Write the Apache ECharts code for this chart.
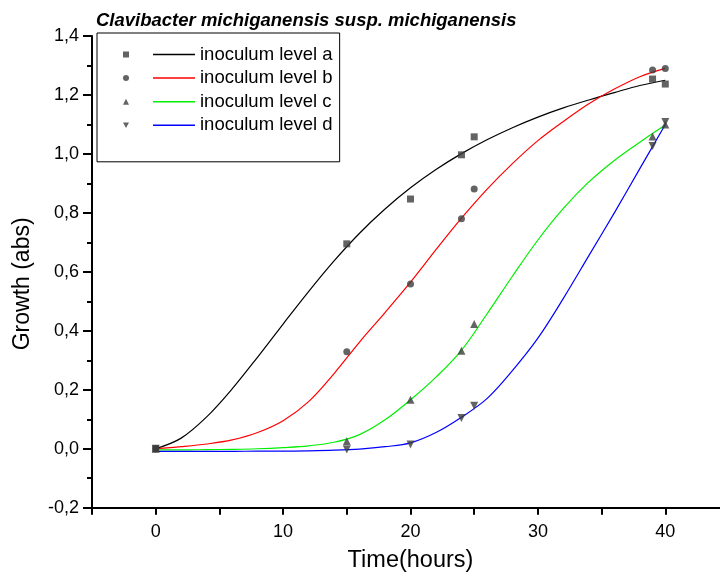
<!DOCTYPE html>
<html>
<head>
<meta charset="utf-8">
<script src="https://cdn.jsdelivr.net/npm/echarts@6/dist/echarts.min.js"></script>
<style>
  html, body { margin: 0; padding: 0; background: #fff; }
  #chart { width: 720px; height: 579px; }
</style>
</head>
<body>
<div id="chart"></div>
<script>
// Measured growth (absorbance) at each sampling time, per inoculum level
const sampleHours = [0, 15, 20, 24, 25, 39, 40];
const measuredA = [0.0, 0.695, 0.847, 0.997, 1.058, 1.254, 1.237];
const measuredB = [0.0, 0.329, 0.559, 0.780, 0.881, 1.285, 1.290];
const measuredC = [0.0, 0.025, 0.166, 0.332, 0.423, 1.059, 1.100];
const measuredD = [0.0, -0.003, 0.014, 0.104, 0.146, 1.027, 1.108];

// Fitted growth curves, sampled every 2 hours
const fitHours = [0, 2, 4, 6, 8, 10, 12, 14, 16, 18, 20, 22, 24, 26, 28, 30, 32, 34, 36, 38, 40];
const fitA = [0.0, 0.036, 0.108, 0.203, 0.311, 0.423, 0.533, 0.637, 0.731, 0.813, 0.885, 0.947, 1.001, 1.048, 1.089, 1.125, 1.156, 1.183, 1.208, 1.232, 1.25];
const fitB = [0.0, 0.007, 0.016, 0.03, 0.055, 0.095, 0.16, 0.255, 0.362, 0.462, 0.565, 0.675, 0.782, 0.88, 0.967, 1.045, 1.11, 1.17, 1.22, 1.262, 1.29];
const fitC = [-0.004, -0.004, -0.003, -0.002, 0.0, 0.004, 0.01, 0.022, 0.048, 0.098, 0.166, 0.243, 0.334, 0.457, 0.585, 0.708, 0.815, 0.905, 0.978, 1.04, 1.098];
const fitD = [-0.009, -0.009, -0.009, -0.009, -0.008, -0.008, -0.007, -0.005, -0.001, 0.007, 0.02, 0.055, 0.107, 0.17, 0.265, 0.375, 0.51, 0.655, 0.8, 0.95, 1.1];

const levelNames = ['inoculum level a', 'inoculum level b', 'inoculum level c', 'inoculum level d'];
const pointNames = ['level a measured', 'level b measured', 'level c measured', 'level d measured'];
const curveColors = ['#000000', '#ff0000', '#00ee00', '#0000ff'];

const xLabelValues = [0, 10, 20, 30, 40];

const titleText = 'Clavibacter michiganensis susp. michiganensis';
const xName = 'Time(hours)';
const yName = 'Growth (abs)';

const FONT = '"Liberation Sans", Arial, sans-serif';
const pointColor = '#3c3c3c';
const downTriangle = 'path://M0,0 L10,0 L5,9 Z';

function pairs(xs, ys) { return xs.map((x, i) => [x, ys[i]]); }

const fits = [fitA, fitB, fitC, fitD];
const measured = [measuredA, measuredB, measuredC, measuredD];
const markers = [
  { symbol: 'rect', size: 7 },
  { symbol: 'circle', size: 7 },
  { symbol: 'triangle', size: 8 },
  { symbol: downTriangle, size: 8 }
];

const series = [];
fits.forEach((f, i) => {
  series.push({
    name: levelNames[i],
    type: 'line',
    data: pairs(fitHours, f),
    smooth: 0.35,
    symbol: 'none',
    color: curveColors[i],
    lineStyle: { color: curveColors[i], width: 1.2 },
    z: 2,
    silent: true
  });
});
measured.forEach((m, i) => {
  series.push({
    name: pointNames[i],
    type: 'scatter',
    data: pairs(sampleHours, m),
    symbol: markers[i].symbol,
    symbolSize: markers[i].size,
    itemStyle: { color: pointColor },
    z: 5,
    silent: true
  });
});

const chart = echarts.init(document.getElementById('chart'), null, { renderer: 'canvas' });
chart.setOption({
  animation: false,
  backgroundColor: '#ffffff',
  textStyle: { fontFamily: FONT },
  title: {
    text: titleText,
    left: 96,
    top: 11,
    padding: 0,
    textStyle: { fontFamily: FONT, fontSize: 18.5, fontWeight: 'bold', fontStyle: 'italic', color: '#000' }
  },
  legend: [
    {
      data: levelNames,
      orient: 'vertical',
      left: 97,
      top: 33,
      padding: [12, 7, 27, 56],
      borderColor: '#000',
      borderWidth: 1,
      icon: 'rect',
      itemWidth: 42,
      itemHeight: 1.5,
      itemGap: 4.6,
      selectedMode: false,
      textStyle: { fontFamily: FONT, fontSize: 18.5, color: '#000', lineHeight: 18 }
    },
    {
      data: pointNames,
      orient: 'vertical',
      left: 123,
      top: 45,
      padding: 0,
      itemWidth: 6,
      itemHeight: 6,
      itemGap: 4.6,
      selectedMode: false,
      formatter: () => ' ',
      itemStyle: { color: pointColor },
      textStyle: { fontFamily: FONT, fontSize: 18.5, color: '#000', lineHeight: 18 }
    }
  ],
  grid: {
    left: 92,
    top: 36,
    right: -9,
    bottom: 71.3,
    containLabel: false,
    outerBoundsMode: 'none'
  },
  xAxis: {
    // ticks every 5 hours, labels every 10
    type: 'value',
    position: 'bottom',
    min: -5,
    max: 45,
    interval: 5,
    name: xName,
    nameLocation: 'middle',
    nameGap: 41,
    nameMoveOverlap: false,
    nameTextStyle: { fontFamily: FONT, fontSize: 23.5, color: '#000' },
    axisLine: { show: true, onZero: false, lineStyle: { color: '#000', width: 2 } },
    axisTick: { show: true, inside: false, length: 7, lineStyle: { color: '#000', width: 2 } },
    axisLabel: { show: true, margin: 15, customValues: xLabelValues, fontFamily: FONT, fontSize: 18, color: '#000' },
    splitLine: { show: false }
  },
  yAxis: {
    type: 'value',
    min: -0.2,
    max: 1.4,
    interval: 0.2,
    name: yName,
    nameLocation: 'middle',
    nameGap: 58,
    nameMoveOverlap: false,
    nameTextStyle: { fontFamily: FONT, fontSize: 23, color: '#000', padding: [0, 24, 0, 0] },
    axisLine: { show: true, onZero: false, lineStyle: { color: '#000', width: 2 } },
    axisTick: { show: true, inside: false, length: 9, lineStyle: { color: '#000', width: 2 } },
    minorTick: { show: true, splitNumber: 2, length: 5, lineStyle: { color: '#000', width: 2 } },
    axisLabel: {
      margin: 13,
      fontFamily: FONT,
      fontSize: 18,
      color: '#000',
      formatter: v => v.toFixed(1).replace('.', ',')
    },
    splitLine: { show: false },
    minorSplitLine: { show: false }
  },
  series: series
});
</script>
</body>
</html>
